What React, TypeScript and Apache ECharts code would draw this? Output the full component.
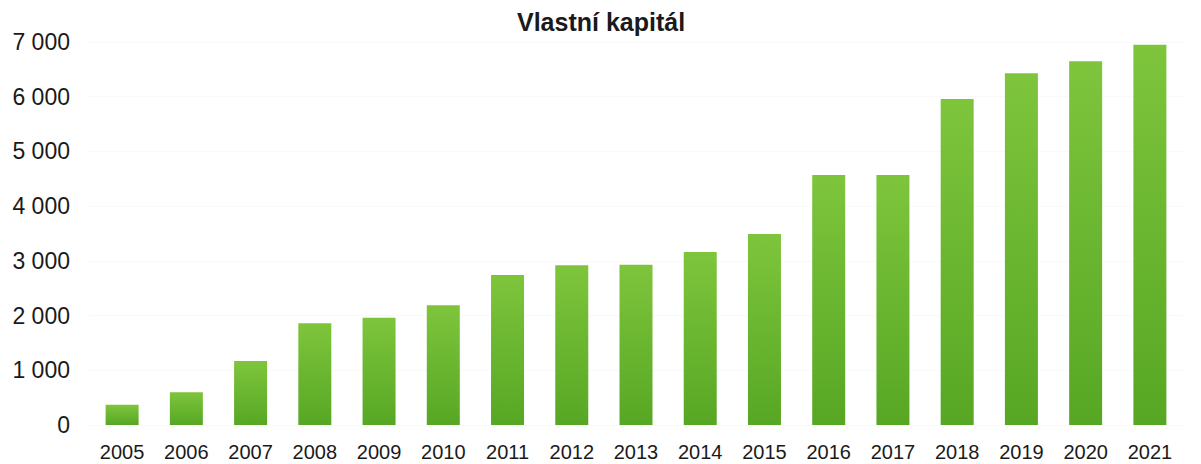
import React, { useEffect, useRef } from "react";
import * as echarts from "echarts";

const years = ["2005", "2006", "2007", "2008", "2009", "2010", "2011", "2012", "2013", "2014", "2015", "2016", "2017", "2018", "2019", "2020", "2021"];
const equity = [370, 600, 1170, 1860, 1960, 2190, 2740, 2920, 2930, 3160, 3490, 4570, 4570, 5960, 6430, 6650, 6950];
const titleText = "Vlastní kapitál";

const fmt = (v: number) => {
  const s = String(Math.round(v));
  return s.replace(/\B(?=(\d{3})+(?!\d))/g, " ");
};

export default function App() {
  const ref = useRef<HTMLDivElement>(null);
  useEffect(() => {
    if (!ref.current) return;
    const chart = echarts.init(ref.current, undefined, { renderer: "svg" });
    chart.setOption({
      animation: false,
      backgroundColor: "#ffffff",
      title: {
        text: titleText,
        left: 517,
        top: 9,
        padding: 0,
        textStyle: { fontFamily: "Liberation Sans", fontSize: 25, fontWeight: "bold", color: "#1a1a1a" },
      },
      grid: { left: 90, right: 19, top: 42, bottom: 39, containLabel: false },
      xAxis: {
        type: "category",
        data: years,
        axisLine: { show: false },
        axisTick: { show: false },
        axisLabel: { fontFamily: "Liberation Sans", fontSize: 20, color: "#1a1a1a", margin: 17 },
      },
      yAxis: {
        type: "value",
        min: 0,
        max: 7000,
        interval: 1000,
        axisLine: { show: false },
        axisTick: { show: false },
        splitLine: { show: true, lineStyle: { color: "#f9f9f9", width: 1 } },
        axisLabel: {
          fontFamily: "Liberation Sans",
          fontSize: 23,
          color: "#1a1a1a",
          margin: 20,
          formatter: (v: number) => fmt(v),
        },
      },
      series: [
        {
          type: "bar",
          data: equity,
          barWidth: 33,
          itemStyle: {
            color: new echarts.graphic.LinearGradient(0, 0, 0, 1, [
              { offset: 0, color: "#7ec53c" },
              { offset: 1, color: "#57a724" },
            ]),
          },
        },
      ],
    });
    return () => chart.dispose();
  }, []);
  return <div ref={ref} style={{ position: "fixed", left: 0, top: 0, width: 1201, height: 464 }} />;
}
